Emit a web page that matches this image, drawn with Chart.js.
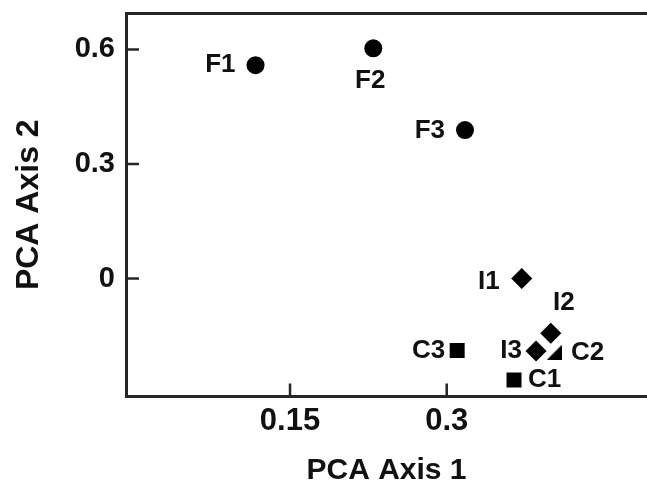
<!DOCTYPE html>
<html><head><meta charset="utf-8">
<script src="https://cdn.jsdelivr.net/npm/chart.js@4.4.1/dist/chart.umd.min.js"></script>
<style>html,body{margin:0;padding:0;background:#fff;overflow:hidden}canvas{display:block}</style>
</head><body>
<canvas id="c" width="647" height="486"></canvas>
<script>
// ---- data ----
const fLabels = ['F1', 'F2', 'F3'];
const fX = [0.117, 0.2297, 0.3175];
const fY = [0.559, 0.603, 0.389];
const iLabels = ['I1', 'I2', 'I3'];
const iX = [0.3718, 0.3996, 0.3855];
const iY = [0.0, -0.1436, -0.190];
const cLabels = ['C1', 'C2', 'C3'];
const cX = [0.3644, 0.4027, 0.310];
const cY = [-0.266, -0.194, -0.1886];
const xTicks = [0.15, 0.3];
const xTickLabels = ['0.15', '0.3'];
const yTicks = [0, 0.3, 0.6];
const yTickLabels = ['0', '0.3', '0.6'];
const xTitle = 'PCA Axis 1';
const yTitle = 'PCA Axis 2';

// ---- label placement (style only): [dx, dy, align] ----
const fPlace = [[-20, 0, 'right'], [-3, 32, 'center'], [-20, 1, 'right']];
const iPlace = [[-22, 3, 'right'], [13, -30, 'center'], [-14, 0, 'right']];
const cPlace = [[14, 0, 'left'], [17, 0, 'left'], [-12, 0, 'right']];

const FONT = '"Liberation Sans", Arial, Helvetica, sans-serif';
const INK = '#111';
const AXIS = '#262626';
const pts = (xs, ys) => xs.map((x, i) => ({x: x, y: ys[i]}));

// partially hidden marker glyph for C2
const tri = document.createElement('canvas');
tri.width = 15; tri.height = 15;
{
  const t = tri.getContext('2d');
  t.fillStyle = '#000';
  t.beginPath(); t.moveTo(0, 15); t.lineTo(15, 0); t.lineTo(15, 15); t.closePath(); t.fill();
}

const decor = {
  id: 'decor',
  afterDatasetsDraw(chart) {
    const ctx = chart.ctx, a = chart.chartArea, xs = chart.scales.x, ys = chart.scales.y;
    ctx.save();
    ctx.strokeStyle = AXIS; ctx.lineWidth = 2.5;
    xs.ticks.forEach(t => {
      const p = xs.getPixelForValue(t.value);
      ctx.beginPath(); ctx.moveTo(p, a.bottom); ctx.lineTo(p, a.bottom - 13); ctx.stroke();
    });
    ys.ticks.forEach(t => {
      const p = ys.getPixelForValue(t.value);
      ctx.beginPath(); ctx.moveTo(a.left, p); ctx.lineTo(a.left + 13, p); ctx.stroke();
    });
    ctx.fillStyle = INK;
    ctx.font = 'bold 26px ' + FONT;
    ctx.textBaseline = 'middle';
    chart.data.datasets.forEach((ds, di) => {
      const meta = chart.getDatasetMeta(di);
      meta.data.forEach((el, i) => {
        const pl = ds.place[i];
        ctx.textAlign = pl[2];
        ctx.fillText(ds.names[i], el.x + pl[0], el.y + pl[1]);
      });
    });
    ctx.restore();
  }
};

const noPad = s => { s.paddingTop = 0; s.paddingBottom = 0; s.paddingLeft = 0; s.paddingRight = 0; };

new Chart(document.getElementById('c'), {
  type: 'scatter',
  data: {
    datasets: [
      {
        data: pts(iX, iY), names: iLabels, place: iPlace,
        pointStyle: 'rectRot', pointRadius: 12, pointHoverRadius: 12,
        backgroundColor: '#000', borderColor: '#fff', borderWidth: 2
      },
      {
        data: pts(fX, fY), names: fLabels, place: fPlace,
        pointStyle: 'circle', pointRadius: 9, pointHoverRadius: 9,
        backgroundColor: '#000', borderWidth: 0
      },
      {
        data: pts(cX, cY), names: cLabels, place: cPlace,
        pointStyle: (c) => (c.dataIndex === 1 ? tri : 'rect'),
        pointRadius: 10.6, pointHoverRadius: 10.6,
        backgroundColor: '#000', borderWidth: 0
      }
    ]
  },
  options: {
    responsive: false,
    animation: false,
    devicePixelRatio: 1,
    events: [],
    layout: {padding: 0, autoPadding: false},
    plugins: {legend: {display: false}, tooltip: {enabled: false}},
    scales: {
      x: {
        type: 'linear', position: 'bottom', min: -0.007, max: 0.4917,
        afterBuildTicks: s => { s.ticks = xTicks.map(v => ({value: v})); },
        afterFit: s => { s.height = 89.5; noPad(s); },
        ticks: {
          callback: (v, i) => xTickLabels[i],
          font: {family: FONT, size: 31, weight: 'bold'}, color: INK,
          padding: 6, maxRotation: 0, autoSkip: false
        },
        grid: {display: false, drawTicks: false, tickLength: 0},
        border: {display: true, color: AXIS, width: 3},
        title: {
          display: true, text: xTitle, color: INK,
          font: {family: FONT, size: 30, weight: 'bold', lineHeight: 1},
          padding: {top: 0, bottom: 0}
        }
      },
      x2: {
        type: 'linear', position: 'top', display: true,
        ticks: {display: false},
        grid: {display: false, drawTicks: false, tickLength: 0},
        border: {display: true, color: AXIS, width: 3},
        afterFit: s => { s.height = 13; noPad(s); }
      },
      y: {
        type: 'linear', position: 'left', min: -0.3091, max: 0.6956,
        afterBuildTicks: s => { s.ticks = yTicks.map(v => ({value: v})); },
        afterFit: s => { s.width = 126; noPad(s); },
        ticks: {
          callback: (v, i) => yTickLabels[i],
          font: {family: FONT, size: 29, weight: 'bold'}, color: INK,
          padding: 11, autoSkip: false
        },
        grid: {display: false, drawTicks: false, tickLength: 0},
        border: {display: true, color: AXIS, width: 3},
        title: {
          display: true, text: yTitle, color: INK,
          font: {family: FONT, size: 32, weight: 'bold', lineHeight: 1},
          padding: {top: 13, bottom: 0}
        }
      }
    }
  },
  plugins: [decor]
});
</script>
</body></html>
